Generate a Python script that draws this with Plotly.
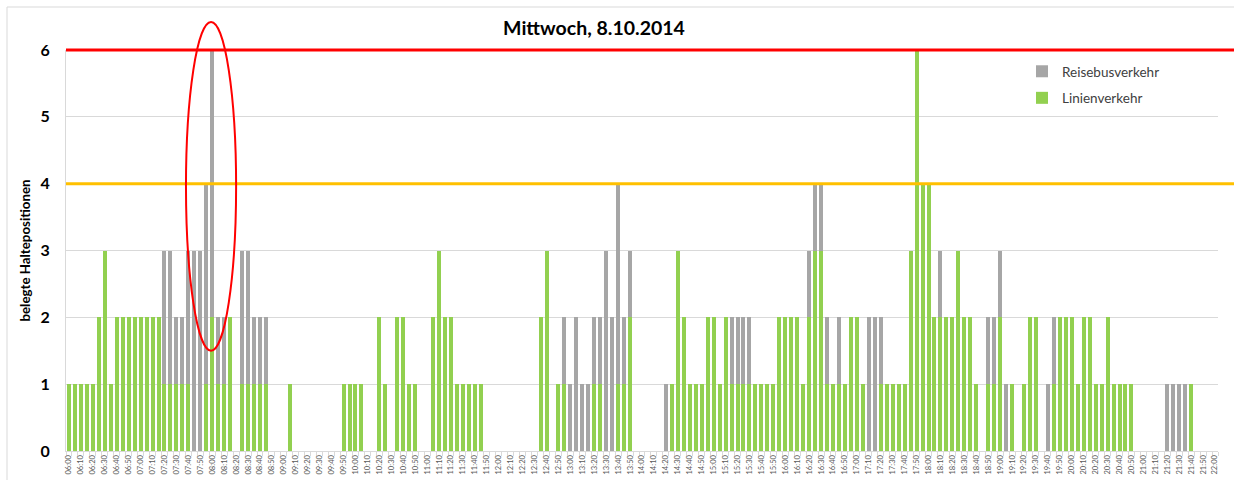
import plotly.graph_objects as go

# categories: 5-minute slots from 06:00 to 22:00
times = [f"{h:02d}:{m:02d}" for h in range(6, 22) for m in range(0, 60, 5)] + ["22:00"]

linienverkehr = [
    1, 1, 1, 1, 1, 2, 3, 1, 2, 2, 2, 2,   # 06
    2, 2, 2, 2, 1, 1, 1, 1, 1, 0, 0, 1,   # 07
    2, 1, 1, 2, 0, 1, 1, 1, 1, 1, 0, 0,   # 08
    0, 1, 0, 0, 0, 0, 0, 0, 0, 0, 1, 1,   # 09
    1, 1, 0, 0, 2, 1, 0, 2, 2, 1, 1, 0,   # 10
    0, 2, 3, 2, 2, 1, 1, 1, 1, 1, 0, 0,   # 11
    0, 0, 0, 0, 0, 0, 0, 2, 3, 0, 1, 1,   # 12
    0, 0, 0, 0, 1, 1, 0, 0, 1, 1, 2, 0,   # 13
    0, 0, 0, 0, 0, 1, 3, 2, 1, 1, 1, 2,   # 14
    2, 1, 2, 1, 1, 1, 1, 1, 1, 1, 1, 2,   # 15
    2, 2, 2, 1, 2, 3, 3, 1, 1, 1, 1, 2,   # 16
    2, 1, 0, 0, 1, 1, 1, 1, 1, 3, 6, 4,   # 17
    4, 2, 2, 2, 2, 3, 2, 2, 1, 0, 1, 1,   # 18
    2, 0, 1, 0, 1, 2, 2, 0, 0, 1, 2, 2,   # 19
    2, 1, 2, 2, 1, 1, 2, 1, 1, 1, 1, 0,   # 20
    0, 0, 0, 0, 0, 0, 0, 0, 1, 0, 0, 0,   # 21
    0,                                    # 22:00
]

reisebusverkehr = [
    0, 0, 0, 0, 0, 0, 0, 0, 0, 0, 0, 0,   # 06
    0, 0, 0, 0, 2, 2, 1, 1, 2, 3, 3, 3,   # 07
    4, 1, 1, 0, 0, 2, 2, 1, 1, 1, 0, 0,   # 08
    0, 0, 0, 0, 0, 0, 0, 0, 0, 0, 0, 0,   # 09
    0, 0, 0, 0, 0, 0, 0, 0, 0, 0, 0, 0,   # 10
    0, 0, 0, 0, 0, 0, 0, 0, 0, 0, 0, 0,   # 11
    0, 0, 0, 0, 0, 0, 0, 0, 0, 0, 0, 1,   # 12
    1, 2, 1, 1, 1, 1, 3, 2, 3, 1, 1, 0,   # 13
    0, 0, 0, 0, 1, 0, 0, 0, 0, 0, 0, 0,   # 14
    0, 0, 0, 1, 1, 1, 1, 0, 0, 0, 0, 0,   # 15
    0, 0, 0, 0, 1, 1, 1, 1, 0, 1, 0, 0,   # 16
    0, 0, 2, 2, 1, 0, 0, 0, 0, 0, 0, 0,   # 17
    0, 0, 1, 0, 0, 0, 0, 0, 0, 0, 1, 1,   # 18
    1, 1, 0, 0, 0, 0, 0, 0, 1, 1, 0, 0,   # 19
    0, 0, 0, 0, 0, 0, 0, 0, 0, 0, 0, 0,   # 20
    0, 0, 0, 0, 1, 1, 1, 1, 0, 0, 0, 0,   # 21
    0,                                    # 22:00
]

limit_red = 6
limit_orange = 4
y_max = 6
# highlighted morning peak (category index span and value span)
ellipse_idx = (19.6, 28.0)
ellipse_val = (1.5, 6.42)

FONT = "Lato, 'Open Sans', sans-serif"
W, H = 1234, 480
L, R, T, B = 66, 16, 50, 29
pw, ph = W - L - R, H - T - B
n = len(times)

def px_x(p):
    return (p - L) / pw

def px_y(p):
    return (H - B - p) / ph

def cat_paper(i):
    return (i + 0.5) / n

fig = go.Figure()
fig.add_trace(go.Bar(x=times, y=linienverkehr, name="Linienverkehr",
                     marker=dict(color="#92D050", line=dict(width=0)),
                     legendgroup="a", legendrank=2))
fig.add_trace(go.Bar(x=times, y=reisebusverkehr, name="Reisebusverkehr",
                     marker=dict(color="#A6A6A6", line=dict(width=0)),
                     legendgroup="b", legendrank=1))

shapes = [
    # outer frame
    dict(type="rect", xref="paper", yref="paper",
         x0=px_x(7), x1=px_x(1300), y0=px_y(600), y1=px_y(7),
         line=dict(color="#D9D9D9", width=1), layer="below"),
    dict(type="line", xref="paper", yref="paper", x0=0, x1=px_x(1240),
         y0=limit_orange / y_max, y1=limit_orange / y_max,
         line=dict(color="#FFC000", width=3)),
    dict(type="line", xref="paper", yref="paper", x0=0, x1=px_x(1240),
         y0=limit_red / y_max, y1=limit_red / y_max,
         line=dict(color="#FF0000", width=3)),
    dict(type="circle", xref="paper", yref="paper",
         x0=cat_paper(ellipse_idx[0]), x1=cat_paper(ellipse_idx[1]),
         y0=ellipse_val[0] / y_max, y1=ellipse_val[1] / y_max,
         line=dict(color="#FF0000", width=2)),
]

fig.update_layout(
    width=W, height=H,
    margin=dict(l=L, r=R, t=T, b=B, autoexpand=False),
    barmode="stack",
    bargap=0.33,
    plot_bgcolor="white", paper_bgcolor="white",
    font=dict(family=FONT, color="#000000"),
    title=dict(text="<b>Mittwoch, 8.10.2014</b>", x=px_x(594), xanchor="center",
               xref="paper", y=1 - 28 / H, yref="container", yanchor="middle",
               font=dict(size=19.5, family=FONT, color="#000000")),
    showlegend=True,
    legend=dict(x=px_x(1022), y=px_y(56), xanchor="left", yanchor="top",
                traceorder="grouped", tracegroupgap=6,
                font=dict(size=13.5, family=FONT, color="#404040"),
                bgcolor="rgba(0,0,0,0)"),
    shapes=shapes,
    xaxis=dict(
        type="category", automargin=False,
        categoryorder="array", categoryarray=times,
        tickmode="array", tickvals=times,
        ticktext=[t if t.endswith("0") else "" for t in times],
        tickangle=-90,
        tickfont=dict(size=7.6, family=FONT, color="#595959"),
        ticks="outside", ticklen=4, tickcolor="#D9D9D9", tickson="boundaries",
        showline=True, linecolor="#D9D9D9", linewidth=1,
        showgrid=False, zeroline=False,
        range=[-0.5, n - 0.5],
    ),
    yaxis=dict(
        automargin=False,
        range=[0, y_max], tickvals=[0, 1, 2, 3, 4, 5, 6],
        tickfont=dict(size=16, family=FONT, color="#000000", weight="bold"),
        ticklabelstandoff=12,
        showgrid=True, gridcolor="#D9D9D9", gridwidth=1,
        showline=True, linecolor="#D9D9D9", linewidth=1,
        zeroline=False,
        title=dict(text="<b>belegte Haltepositionen</b>",
                   font=dict(size=13.3, family=FONT, color="#000000"), standoff=6),
    ),
)

fig.write_html("out.html", config={"displayModeBar": False},
               post_script="document.body.style.margin='0';document.body.style.overflow='hidden';")
